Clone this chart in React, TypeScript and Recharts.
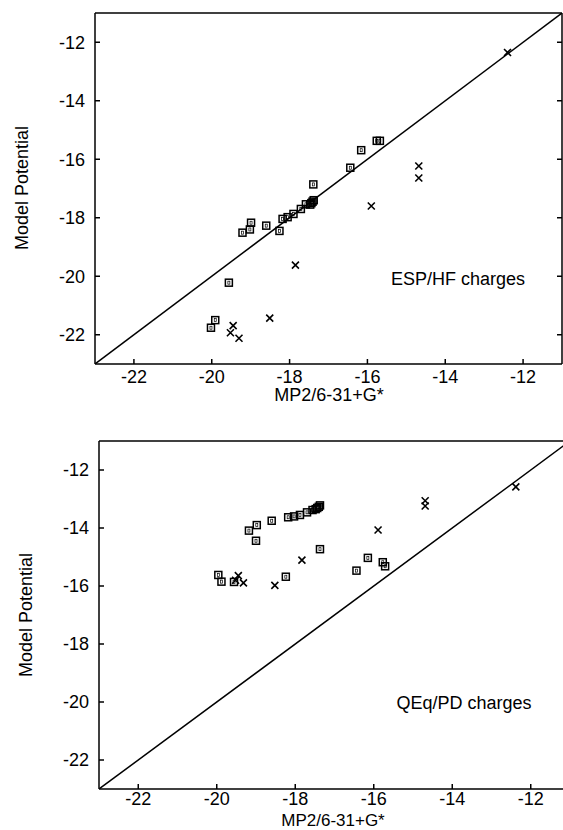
import React from "react";
import {
  ScatterChart,
  Scatter,
  XAxis,
  YAxis,
  ReferenceLine,
} from "recharts";

// tick values shared by both panels
const axisTicks = [-22, -20, -18, -16, -14, -12];
const axisDomain = [-23, -11];
const diagonal = [
  { x: -23, y: -23 },
  { x: -11, y: -11 },
];

// ESP/HF charges (top panel)
const espSquareX = [-15.76, -15.68, -16.16, -16.44, -17.39, -17.47, -17.44, -17.41, -17.38, -17.58, -17.71, -17.9, -18.05, -18.18, -18.26, -18.6, -18.99, -19.02, -19.21, -19.56, -19.91, -20.02];
const espSquareY = [-15.37, -15.37, -15.69, -16.29, -16.86, -17.55, -17.5, -17.45, -17.4, -17.54, -17.7, -17.87, -17.98, -18.04, -18.45, -18.27, -18.17, -18.4, -18.51, -20.22, -21.5, -21.76];
const espCrossX = [-12.4, -14.68, -14.68, -15.9, -17.85, -18.51, -19.45, -19.52, -19.3];
const espCrossY = [-12.35, -16.23, -16.64, -17.6, -19.62, -21.43, -21.69, -21.93, -22.12];

// QEq/PD charges (bottom panel)
const qeqSquareX = [-15.77, -15.71, -16.15, -16.44, -17.37, -17.37, -17.4, -17.44, -17.48, -17.56, -17.7, -17.88, -18.03, -18.18, -18.24, -18.6, -18.98, -19.0, -19.18, -19.56, -19.88, -19.96];
const qeqSquareY = [-15.18, -15.32, -15.03, -15.47, -14.73, -13.22, -13.27, -13.31, -13.35, -13.38, -13.46, -13.55, -13.6, -13.63, -15.68, -13.75, -13.9, -14.44, -14.09, -15.86, -15.85, -15.62];
const qeqCrossX = [-12.38, -14.69, -14.69, -15.89, -17.83, -18.52, -19.45, -19.52, -19.32];
const qeqCrossY = [-12.58, -13.06, -13.24, -14.07, -15.11, -15.98, -15.64, -15.8, -15.89];

const zip = (xs: number[], ys: number[]) => xs.map((x, i) => ({ x, y: ys[i] }));

const FONT = "'Liberation Sans', Arial, Helvetica, sans-serif";
const tickStyle = { fill: "#000", fontSize: 18, fontFamily: FONT };
const lineStyle = { stroke: "#000", strokeWidth: 1.5 };

// mirror axes: tick marks only, no labels
const NoLabel = () => <g />;

const SquareMark = (props: any) => {
  const { cx, cy } = props;
  if (cx == null || cy == null) return null;
  return (
    <g>
      <rect x={cx - 3.5} y={cy - 3.5} width={7} height={7} fill="none" stroke="#000" strokeWidth={1.5} />
      <rect x={cx - 1} y={cy - 1.5} width={2} height={3} fill="none" stroke="#000" strokeWidth={0.7} />
    </g>
  );
};

const CrossMark = (props: any) => {
  const { cx, cy } = props;
  if (cx == null || cy == null) return null;
  const s = 3.5;
  return (
    <path
      d={`M${cx - s},${cy - s}L${cx + s},${cy + s}M${cx + s},${cy - s}L${cx - s},${cy + s}`}
      stroke="#000"
      strokeWidth={1.6}
      fill="none"
    />
  );
};

type PanelProps = {
  width: number;
  height: number;
  leftWidth: number;
  xTickGap: number;
  squares: { x: number; y: number }[];
  crosses: { x: number; y: number }[];
};

const Panel: React.FC<PanelProps> = ({ width, height, leftWidth, xTickGap, squares, crosses }) => (
  <ScatterChart width={width} height={height} margin={{ top: 12, right: 0, bottom: 0, left: 0 }}>
    <XAxis
      type="number"
      dataKey="x"
      domain={axisDomain}
      ticks={axisTicks}
      allowDataOverflow
      height={36}
      tickSize={-5}
      tickMargin={xTickGap}
      tick={tickStyle}
      axisLine={lineStyle}
      tickLine={lineStyle}
      interval={0}
    />
    <XAxis
      xAxisId="top"
      orientation="top"
      type="number"
      domain={axisDomain}
      ticks={axisTicks}
      allowDataOverflow
      height={1}
      tickSize={-5}
      tick={NoLabel}
      axisLine={lineStyle}
      tickLine={lineStyle}
      interval={0}
    />
    <YAxis
      type="number"
      dataKey="y"
      domain={axisDomain}
      ticks={axisTicks}
      allowDataOverflow
      width={leftWidth}
      tickSize={-5}
      tickMargin={15}
      tick={tickStyle}
      axisLine={lineStyle}
      tickLine={lineStyle}
      interval={0}
    />
    <YAxis
      yAxisId="right"
      orientation="right"
      type="number"
      domain={axisDomain}
      ticks={axisTicks}
      allowDataOverflow
      width={1}
      tickSize={-5}
      tick={NoLabel}
      axisLine={lineStyle}
      tickLine={lineStyle}
      interval={0}
    />
    <ReferenceLine segment={diagonal} stroke="#000" strokeWidth={1.5} ifOverflow="hidden" />
    <Scatter data={squares} shape={SquareMark} isAnimationActive={false} />
    <Scatter data={crosses} shape={CrossMark} isAnimationActive={false} />
  </ScatterChart>
);

const App: React.FC = () => {
  const textProps = { fontFamily: FONT, fontSize: 18, fill: "#000" };
  return (
    <div
      style={{
        position: "absolute",
        left: 0,
        top: 0,
        width: 563,
        height: 830,
        overflow: "hidden",
        background: "#fff",
      }}
    >
      <div style={{ position: "absolute", left: 0, top: 0 }}>
        <Panel
          width={563}
          height={400}
          leftWidth={95}
          xTickGap={11}
          squares={zip(espSquareX, espSquareY)}
          crosses={zip(espCrossX, espCrossY)}
        />
      </div>
      <div style={{ position: "absolute", left: 0, top: 428 }}>
        <Panel
          width={571}
          height={397}
          leftWidth={99}
          xTickGap={8}
          squares={zip(qeqSquareX, qeqSquareY)}
          crosses={zip(qeqCrossX, qeqCrossY)}
        />
      </div>
      <svg
        width={563}
        height={830}
        style={{ position: "absolute", left: 0, top: 0, pointerEvents: "none" }}
      >
        <text {...textProps} x={28} y={188} textAnchor="middle" transform="rotate(-90 28 188)">
          Model Potential
        </text>
        <text {...textProps} x={329} y={401} textAnchor="middle">
          MP2/6-31+G*
        </text>
        <text {...textProps} x={458} y={285} textAnchor="middle">
          ESP/HF charges
        </text>
        <text {...textProps} x={32} y={615} textAnchor="middle" transform="rotate(-90 32 615)">
          Model Potential
        </text>
        <text {...textProps} fontSize={17} x={333} y={826} textAnchor="middle">
          MP2/6-31+G*
        </text>
        <text {...textProps} x={464} y={709} textAnchor="middle">
          QEq/PD charges
        </text>
      </svg>
    </div>
  );
};

export default App;
